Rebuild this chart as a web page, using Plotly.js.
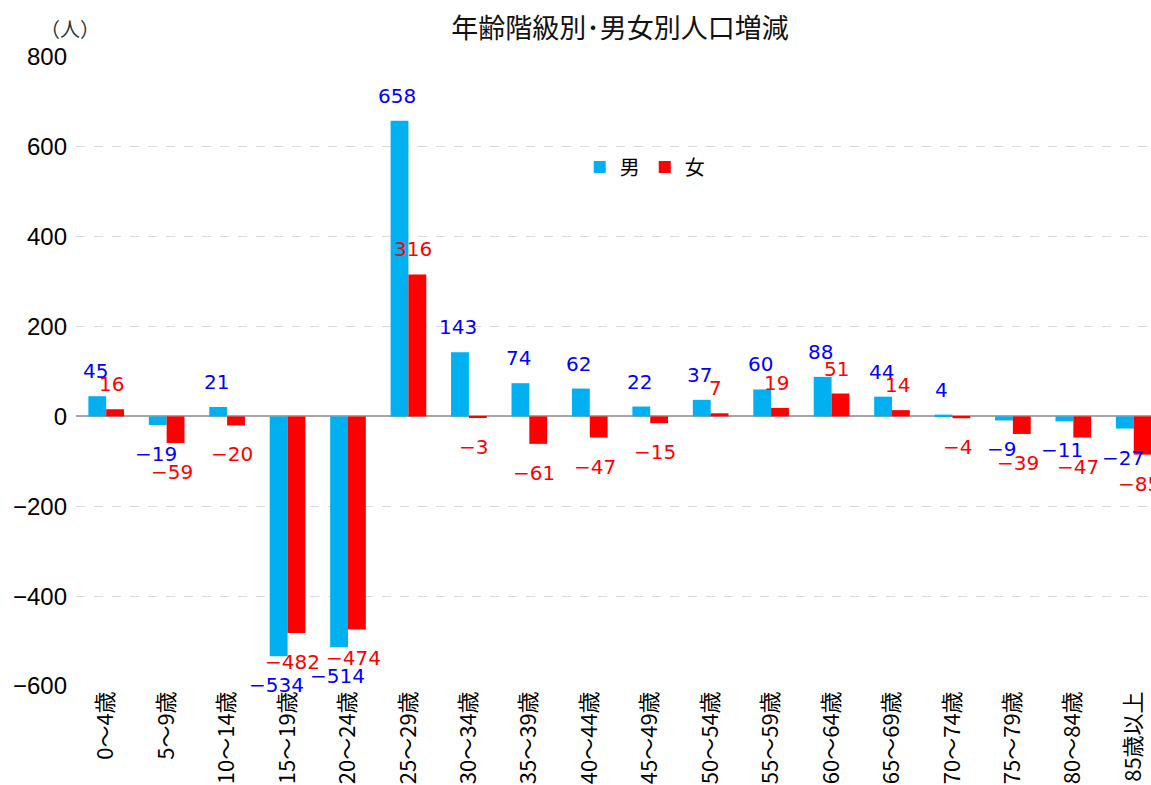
<!DOCTYPE html>
<html>
<head>
<meta charset="utf-8">
<script src="https://cdn.plot.ly/plotly-3.0.1.min.js"></script>
<style>
  html, body { margin: 0; padding: 0; background: #fff; overflow: hidden; }
  #chart { width: 1170px; height: 785px; }
</style>
</head>
<body>
<div id="chart"></div>
<script>
// 年齢階級
const ageGroups = ['0～4歳', '5～9歳', '10～14歳', '15～19歳', '20～24歳', '25～29歳',
    '30～34歳', '35～39歳', '40～44歳', '45～49歳', '50～54歳', '55～59歳',
    '60～64歳', '65～69歳', '70～74歳', '75～79歳', '80～84歳', '85歳以上'];
const male   = [45, -19, 21, -534, -514, 658, 143, 74, 62, 22, 37, 60, 88, 44, 4, -9, -11, -27];
const female = [16, -59, -20, -482, -474, 316, -3, -61, -47, -15, 7, 19, 51, 14, -4, -39, -47, -85];
const yTicks = [-600, -400, -200, 0, 200, 400, 600, 800];

const font = 'Noto Sans CJK JP, sans-serif';
const numFont = 'DejaVu Sans, sans-serif';

const fmt = v => (v < 0 ? '−' + Math.abs(v) : String(v));

const traceMale = {
    x: ageGroups, y: male, type: 'bar', name: '男',
    marker: { color: '#00b0f0' }, hoverinfo: 'x+y'
};
const traceFemale = {
    x: ageGroups, y: female, type: 'bar', name: '女',
    marker: { color: '#ff0000' }, hoverinfo: 'x+y'
};

// data labels, placed like Excel's "outside end"
function labels(vals, color, xshift) {
    return vals.map((v, i) => ({
        x: ageGroups[i], y: v, xref: 'x', yref: 'y',
        text: fmt(v), showarrow: false,
        xanchor: 'center', yanchor: v >= 0 ? 'bottom' : 'top',
        xshift: xshift, yshift: v >= 0 ? 11 : -15,
        font: { size: 20, family: numFont, color: color }
    }));
}

const layout = {
    width: 1170, height: 785,
    title: {
        text: '年齢階級別･男女別人口増減', font: { size: 27, family: font, color: '#111' },
        x: 0.5, xref: 'paper', y: 0.964, yanchor: 'middle'
    },
    barmode: 'group', bargap: 0.41, bargroupgap: 0,
    xaxis: {
        tickangle: -90, tickfont: { size: 22, family: font, color: '#000' },
        showgrid: false, showline: false, ticks: ''
    },
    yaxis: {
        range: [-600, 800], tickvals: yTicks, ticktext: yTicks.map(fmt),
        tickfont: { size: 24, family: 'Liberation Sans, Arial, sans-serif', color: '#000' },
        gridcolor: '#d9d9d9', griddash: 'dash', gridwidth: 1,
        zeroline: true, zerolinecolor: '#a6a6a6', zerolinewidth: 1.5,
        ticks: '', showline: false, ticklabelstandoff: 8
    },
    legend: {
        orientation: 'h', x: 0.463, y: 0.825, yanchor: 'middle', xanchor: 'left',
        font: { size: 20, family: font, color: '#000' }, itemwidth: 20
    },
    annotations: [{
        text: '（人）', xref: 'paper', yref: 'paper', x: -0.035, y: 1.046,
        xanchor: 'left', yanchor: 'middle', showarrow: false,
        font: { size: 20, family: font, color: '#333' }
    }].concat(labels(male, '#0000ff', -11), labels(female, '#ff0000', 5)),
    margin: { l: 76, r: 6, t: 57, b: 99 },
    plot_bgcolor: '#fff', paper_bgcolor: '#fff'
};

Plotly.newPlot('chart', [traceMale, traceFemale], layout, { displayModeBar: false });
</script>
</body>
</html>
